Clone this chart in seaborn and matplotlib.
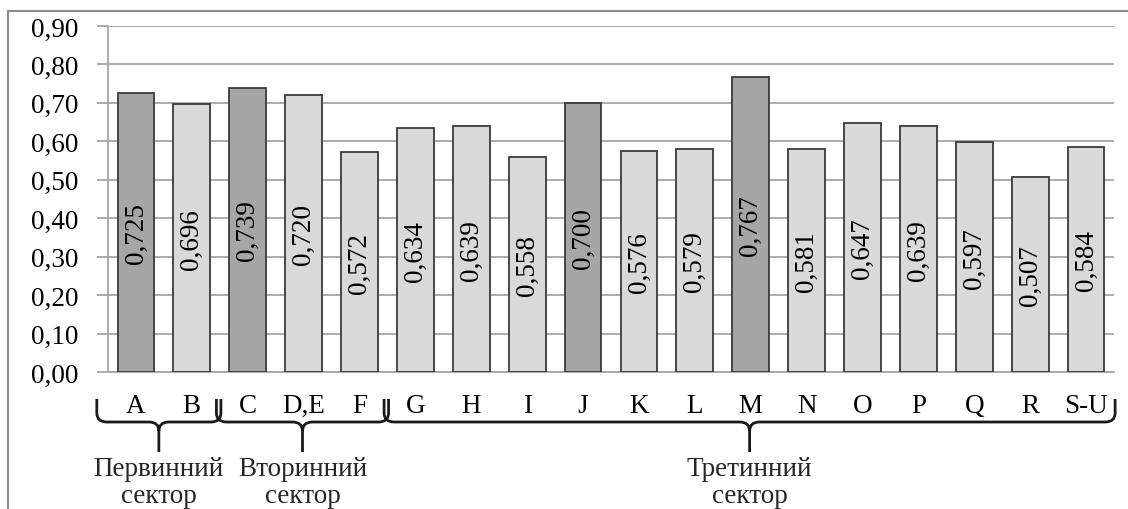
import matplotlib
matplotlib.use("Agg")
import matplotlib.pyplot as plt
import matplotlib.transforms as mtransforms
from matplotlib.path import Path
from matplotlib.patches import PathPatch
from matplotlib.lines import Line2D
import seaborn as sns
import pandas as pd

# ---- data ----
categories = ["A", "B", "C", "D,E", "F", "G", "H", "I", "J", "K", "L", "M",
              "N", "O", "P", "Q", "R", "S-U"]
values = [0.725, 0.696, 0.739, 0.720, 0.572, 0.634, 0.639, 0.558, 0.700,
          0.576, 0.579, 0.767, 0.581, 0.647, 0.639, 0.597, 0.507, 0.584]
highlighted = ["A", "C", "J", "M"]
sectors = ["Первинний\nсектор"] * 2 + ["Вторинний\nсектор"] * 3 + ["Третинний\nсектор"] * 13
y_ticks = [0.0, 0.1, 0.2, 0.3, 0.4, 0.5, 0.6, 0.7, 0.8, 0.9]

DARK = "#A6A6A6"
LIGHT = "#D9D9D9"
GRID = "#A6A6A6"
FONT = "Liberation Serif"
FS = 19.5

sns.set_theme(style="white")
plt.rcParams["font.family"] = [FONT, "DejaVu Serif"]

df = pd.DataFrame({"cat": categories, "val": values})
palette = {c: (DARK if c in highlighted else LIGHT) for c in categories}

W, H = 1128, 510
fig = plt.figure(figsize=(W / 100, H / 100), dpi=100)
ax = fig.add_axes([108 / W, 1 - 373 / H, (1114 - 108) / W, (373 - 27) / H])

sns.barplot(data=df, x="cat", y="val", hue="cat", palette=palette, legend=False,
            width=0.66, edgecolor="#3A3A3A", linewidth=1.3, ax=ax, zorder=3)

ax.set_ylim(0, 0.9)
ax.set_xlim(-0.5, len(categories) - 0.5)
ax.set_yticks(y_ticks)
ax.set_yticklabels([f"{t:.2f}".replace(".", ",") for t in y_ticks],
                   fontsize=FS, fontfamily=FONT)
ax.yaxis.grid(True, color=GRID, linewidth=1.3, zorder=0)
ax.set_axisbelow(True)
ax.set_xlabel("")
ax.set_ylabel("")

# category labels (major, no tick) and boundary ticks (minor)
ax.set_xticks(range(len(categories)))
ax.set_xticklabels(categories, fontsize=FS, fontfamily=FONT)
ax.set_xticks([i - 0.5 for i in range(len(categories) + 1)], minor=True)
ax.tick_params(axis="x", which="major", length=0, pad=15, colors="black")
ax.tick_params(axis="x", which="minor", length=8, width=1.3, color=GRID, direction="out")
ax.tick_params(axis="y", length=8, width=1.3, color=GRID, direction="out", pad=13,
               labelcolor="black", left=True)

for s in ["top", "right"]:
    ax.spines[s].set_visible(False)
for s in ["left", "bottom"]:
    ax.spines[s].set_visible(True)
    ax.spines[s].set_color(GRID)
    ax.spines[s].set_linewidth(1.3)

# value labels centred in bars
for container in ax.containers:
    for bar in container:
        h = bar.get_height()
        ax.text(bar.get_x() + bar.get_width() / 2, h / 2,
                f"{h:.3f}".replace(".", ","), rotation=90, ha="center", va="center",
                fontsize=FS, fontfamily=FONT, color="black", zorder=5)

# sector braces
trans = mtransforms.blended_transform_factory(ax.transData, ax.transAxes)
ax_h_px = 373 - 27
def yf(px_below):
    return -px_below / ax_h_px

groups = []
for i, s in enumerate(sectors):
    if groups and groups[-1][0] == s:
        groups[-1][2] = i
    else:
        groups.append([s, i, i])

y_top, y_mid, y_tip = yf(27), yf(50), yf(80)
r = yf(9)  # vertical curl size (negative)
rx = 0.18
for gi, (name, i0, i1) in enumerate(groups):
    x0 = i0 - 0.5 - (0.2 if gi == 0 else 0.06)
    x1 = i1 + 0.5 + 0.02
    xt = (x0 + x1) / 2
    verts = [
        (x0, y_top), (x0, y_mid - r), (x0, y_mid), (x0 + rx, y_mid),
        (xt - rx, y_mid), (xt, y_mid), (xt, y_mid + r), (xt, y_tip),
        (xt, y_mid + r), (xt, y_mid), (xt + rx, y_mid),
        (x1 - rx, y_mid), (x1, y_mid), (x1, y_mid - r), (x1, y_top),
    ]
    codes = [
        Path.MOVETO, Path.LINETO, Path.CURVE3, Path.CURVE3,
        Path.LINETO, Path.CURVE3, Path.CURVE3, Path.LINETO,
        Path.MOVETO, Path.CURVE3, Path.CURVE3,
        Path.LINETO, Path.CURVE3, Path.CURVE3, Path.LINETO,
    ]
    patch = PathPatch(Path(verts, codes), facecolor="none", edgecolor="#1A1A1A",
                      linewidth=2.0, transform=trans, clip_on=False)
    ax.add_patch(patch)
    ax.text(xt, yf(110), name, transform=trans, ha="center", va="center",
            fontsize=FS, fontfamily=FONT, linespacing=1.15, clip_on=False)

# outer chart frame (partially cropped in the reference)
fig.add_artist(Line2D([8 / W, 8 / W], [0, 1 - 12 / H], transform=fig.transFigure,
                      color="#8C8C8C", linewidth=1.5))
fig.add_artist(Line2D([8 / W, 1], [1 - 12 / H, 1 - 12 / H], transform=fig.transFigure,
                      color="#8C8C8C", linewidth=1.5))

fig.savefig("out.png", dpi=100, facecolor="white")
